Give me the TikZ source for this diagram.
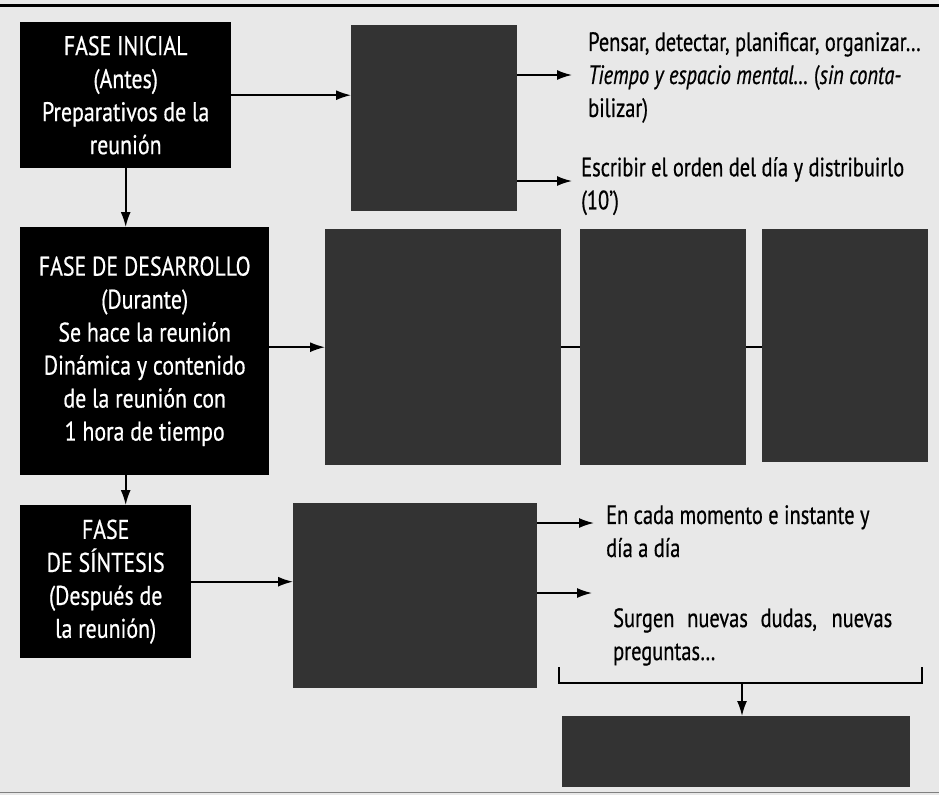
\documentclass[tikz,border=0pt]{standalone}
\usepackage{fontspec}
\setmainfont{PT Sans}[FakeStretch=0.77,FakeBold=0.6]
\newfontfamily\phasefont{PT Sans}[FakeStretch=0.81,FakeBold=0.6]
\usetikzlibrary{arrows.meta}
\begin{document}
\begin{tikzpicture}[x=1pt,y=-1pt,
  phase/.style={fill=black,text=white,align=center,anchor=north west,inner sep=0pt,
    font=\phasefont\fontsize{27}{33}\selectfont},
  hidden/.style={fill=black!80,anchor=north west,inner sep=0pt},
  note/.style={anchor=north west,align=left,inner sep=0pt,
    font=\fontsize{26.5}{33}\selectfont},
  link/.style={line width=1.6pt,-{Latex[length=15pt,width=10pt]}},
  plain/.style={line width=1.6pt}]
% page and rules
\fill[gray!18] (0,0) rectangle (939,795);
\useasboundingbox (0,0) rectangle (939,795);
\draw[line width=3pt] (0,5) -- (939,5);
\draw[line width=1pt,gray] (0,792) -- (939,792);

% phase boxes
\node[phase,minimum width=211pt,minimum height=146pt] (ini) at (20,22)
  {FASE INICIAL\\(Antes)\\Preparativos de la\\reunión};
\node[phase,minimum width=249pt,minimum height=248pt] (des) at (20,227)
  {FASE DE DESARROLLO\\(Durante)\\Se hace la reunión\\Dinámica y contenido\\de la reunión con\\1 hora de tiempo};
\node[phase,minimum width=171pt,minimum height=153pt] (sin) at (20,505)
  {FASE\\DE SÍNTESIS\\(Después de\\la reunión)};

% shaded boxes
\node[hidden,minimum width=166pt,minimum height=186pt] (pre) at (351,25) {};
\node[hidden,minimum width=236pt,minimum height=236pt] (b1) at (325,229) {};
\node[hidden,minimum width=166pt,minimum height=236pt] (b2) at (580,229) {};
\node[hidden,minimum width=166pt,minimum height=233pt] (b3) at (762,229) {};
\node[hidden,minimum width=244pt,minimum height=185pt] (syn) at (293,503) {};
\node[hidden,minimum width=348pt,minimum height=71pt] (fin) at (562,716) {};

% notes
\node[note] (n1) at (588,32)
  {Pensar, detectar, planificar, organizar…\\
   \textit{Tiempo y espacio mental…} (\textit{sin conta-}\\bilizar)};
\node[note] (n2) at (581,157)
  {Escribir el orden del día y distribuirlo\\(10')};
\node[note] (n3) at (606,505)
  {En cada momento e instante y\\día a día};
\node[note] (n4) at (613,608)
  {\makebox[279pt][s]{Surgen nuevas dudas, nuevas}\\preguntas…};

% connectors
\draw[link] (ini.south) -- (des.north -| ini.south);
\draw[link] (des.south -| ini.south) -- (sin.north -| ini.south);
\draw[link] (ini.east) -- (ini.east -| pre.west);
\draw[link] (des.east |- b1.west) -- (b1.west);
\draw[plain] (b1.east) -- (b2.west);
\draw[plain] (b2.east) -- (b2.east -| b3.west);
\draw[link] (sin.east) -- (sin.east -| syn.west);

\coordinate (t1) at (572,75);
\coordinate (t2) at (572,181);
\draw[link] (pre.east |- t1) -- (t1);
\draw[link] (pre.east |- t2) -- (t2);
\coordinate (t3) at (594,523);
\coordinate (t4) at (592,593);
\draw[link] (syn.east |- t3) -- (t3);
\draw[link] (syn.east |- t4) -- (t4);

% bracket gathering both outcomes
\coordinate (bl) at (559,667);
\coordinate (br) at (922,667);
\coordinate (bm) at (742,683);
\draw[plain] (bl) -- (bl |- bm) -- (br |- bm) -- (br);
\draw[link] (bm) -- (bm |- fin.north);
\end{tikzpicture}
\end{document}
